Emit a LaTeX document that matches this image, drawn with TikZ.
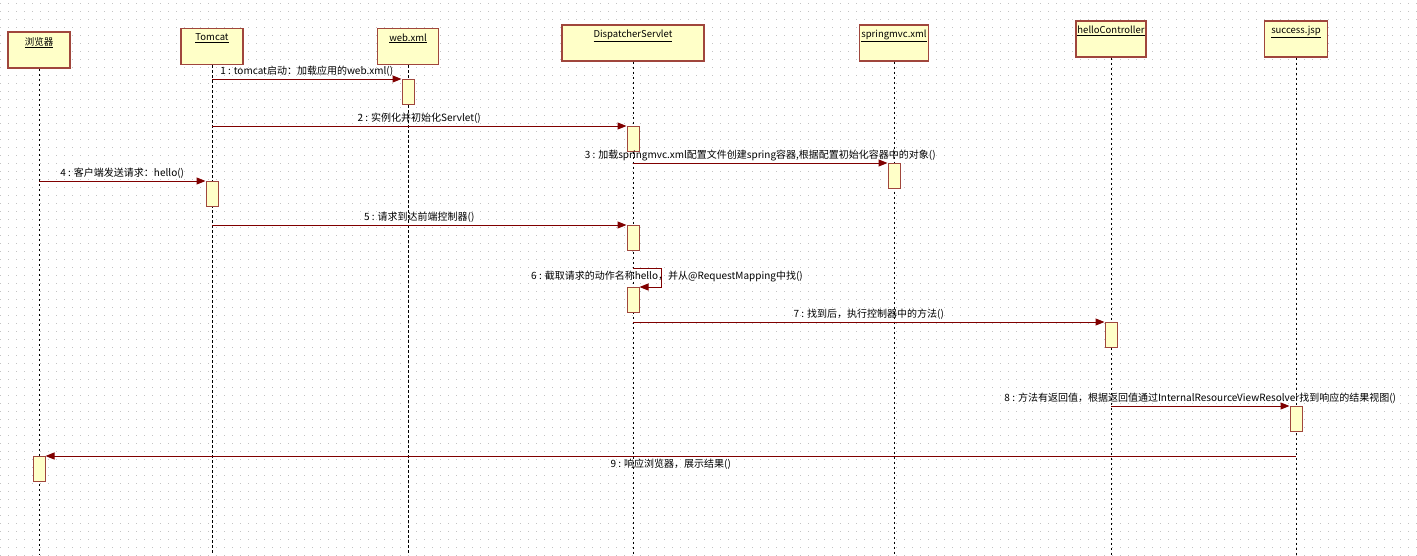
\documentclass[tikz,border=0pt]{standalone}
\usepackage{fontspec}
\setmainfont{Noto Sans CJK SC}
\usepackage{tikz}
\usetikzlibrary{positioning,arrows.meta,calc}
\definecolor{umlfill}{RGB}{255,255,200}
\definecolor{umlborder}{RGB}{160,70,60}
\definecolor{msgred}{RGB}{128,0,0}
\definecolor{griddot}{RGB}{195,195,195}

\begin{document}
\begin{tikzpicture}[x=1pt, y=-1pt,
  font=\fontsize{10}{12}\selectfont,
  hdr/.style={draw=umlborder, fill=umlfill, line width=1.3pt, minimum height=36pt, inner sep=0pt},
  hdrname/.style={anchor=north, inner sep=3pt, yshift=-2.5pt, font=\fontsize{9.5}{11}\selectfont},
  lifeline/.style={dash pattern=on 2.5pt off 2.5pt, line width=0.8pt},
  act/.style={draw=umlborder, fill=umlfill, line width=1pt, minimum width=12pt, minimum height=25pt, inner sep=0pt, anchor=north},
  msg/.style={draw=msgred, line width=1pt, -{Triangle[length=9pt,width=7pt]}},
  msglbl/.style={inner sep=2pt, text=black}]
\useasboundingbox (0,0) rectangle (1417,555);
% dotted background grid
\foreach \gy in {3,11,...,555}
  \draw[griddot, line width=0.8pt, dash pattern=on 0.8pt off 7.2pt] (0,\gy) -- (1417,\gy);
% objects
\node[hdr, minimum width=62pt, label={[hdrname]north:\underline{浏览器}}] (browser) at (39,50) {};
\node[hdr, minimum width=62pt, label={[hdrname]north:\underline{Tomcat}}] (tomcat) at (212,46.5) {};
\node[hdr, minimum width=61pt, label={[hdrname]north:\underline{web.xml}}] (webxml) at (408,46.5) {};
\node[hdr, minimum width=142pt, label={[hdrname]north:\underline{DispatcherServlet}}] (dispatcher) at (633,43) {};
\node[hdr, minimum width=69pt, label={[hdrname]north:\underline{springmvc.xml}}] (springmvc) at (894,43) {};
\node[hdr, minimum width=70pt, label={[hdrname]north:\underline{helloController}}] (hello) at (1111,39) {};
\node[hdr, minimum width=63pt, label={[hdrname]north:\underline{success.jsp}}] (success) at (1296,39) {};
% lifelines
\coordinate (bottom) at (0,555);
\foreach \obj in {browser,tomcat,webxml,dispatcher,springmvc,hello,success}
  \draw[lifeline] (\obj.south) -- (\obj |- bottom);
% activations
\node[act] (act1) at (webxml |- 0,79) {};
\node[act] (act2) at (dispatcher |- 0,126) {};
\node[act] (act3) at (springmvc |- 0,163) {};
\node[act] (act4) at (tomcat |- 0,181) {};
\node[act] (act5) at (dispatcher |- 0,225) {};
\node[act] (act6) at (dispatcher |- 0,287) {};
\node[act] (act7) at (hello |- 0,322) {};
\node[act] (act8) at (success |- 0,406) {};
\node[act] (act9) at (browser |- 0,456) {};
% messages
\draw[msg] (tomcat |- act1.north) -- (act1.north west) node[msglbl, midway, above] {1 : tomcat启动：加载应用的web.xml()};
\draw[msg] (tomcat |- act2.north) -- (act2.north west) node[msglbl, midway, above] {2 : 实例化并初始化Servlet()};
\draw[msg] (dispatcher |- act3.north) -- (act3.north west) node[msglbl, midway, above] {3 : 加载springmvc.xml配置文件创建spring容器,根据配置初始化容器中的对象()};
\draw[msg] (browser |- act4.north) -- (act4.north west) node[msglbl, midway, above] {4 : 客户端发送请求：hello()};
\draw[msg] (tomcat |- act5.north) -- (act5.north west) node[msglbl, midway, above] {5 : 请求到达前端控制器()};
\coordinate (self6) at (dispatcher |- 0,268);
\draw[msg] (self6) -- ++(28,0) |- (act6.north east);
\node[msglbl] (lbl6) at (667,277) {6 : 截取请求的动作名称hello，并从@RequestMapping中找()};
\draw[msg] (dispatcher |- act7.north) -- (act7.north west) node[msglbl, midway, above] {7 : 找到后，执行控制器中的方法()};
\draw[msg] (hello |- act8.north) -- (act8.north west) node[msglbl, midway, above] {8 : 方法有返回值，根据返回值通过InternalResourceViewResolver找到响应的结果视图()};
\draw[msg] (success |- act9.north) -- (act9.north east) node[msglbl, midway, below, inner sep=3pt] {9 : 响应浏览器，展示结果()};
\end{tikzpicture}
\end{document}
